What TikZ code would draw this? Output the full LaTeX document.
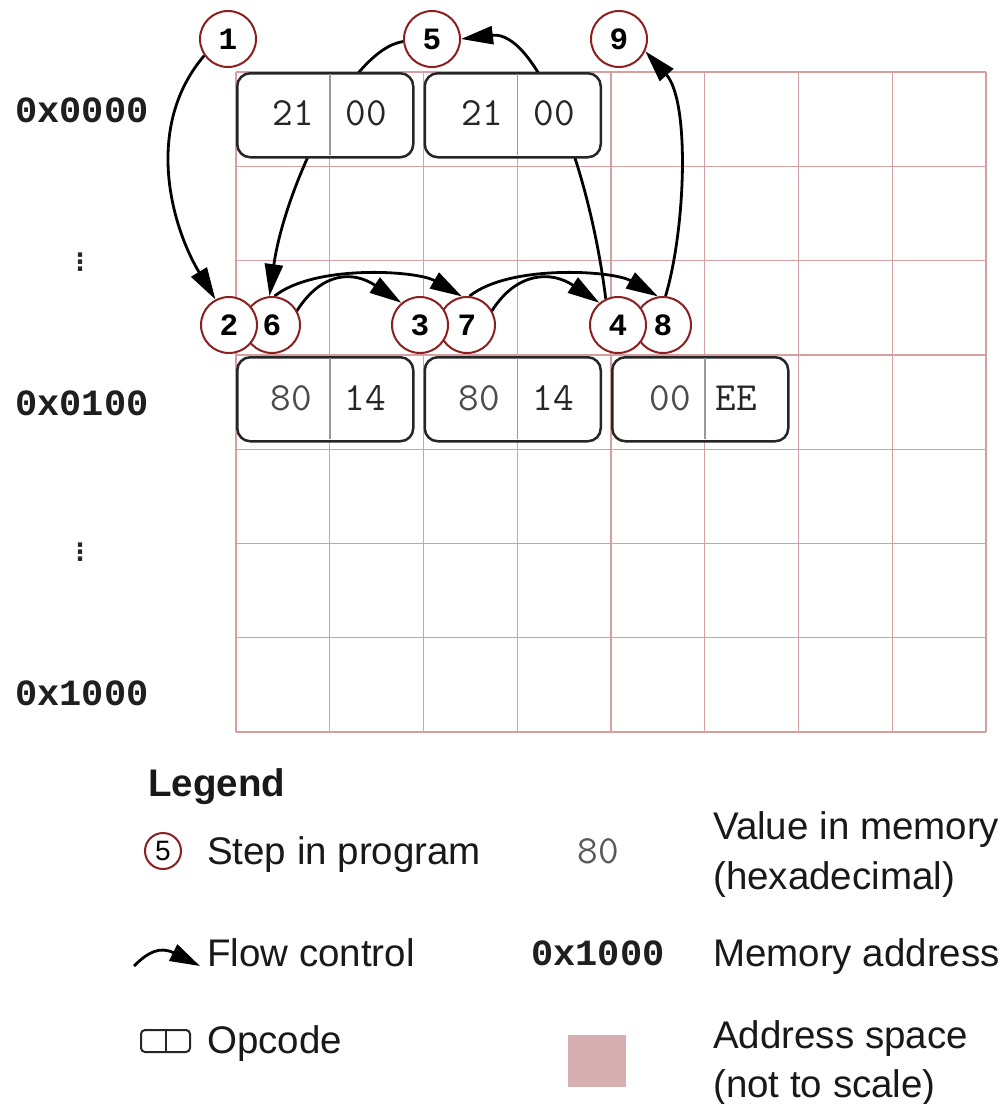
\documentclass[tikz,border=0pt]{standalone}
\usepackage{fontspec}
\setmainfont{Liberation Sans}
\newfontfamily\boldmono{Liberation Mono}
\newfontfamily\dotsfont{DejaVu Sans}
\usetikzlibrary{arrows.meta}
\definecolor{gridred}{RGB}{214,160,162}
\definecolor{stepred}{RGB}{140,32,32}
\definecolor{spacepink}{RGB}{216,175,177}
\newcommand\myvalfont{\fontsize{40}{42}\selectfont\ttfamily}
\newcommand\mystepfont{\fontsize{31}{34}\selectfont\boldmono\bfseries}
\newcommand\myaddrfont{\fontsize{37}{40}\selectfont\boldmono\bfseries}
\newcommand\mylegfont{\fontsize{38.5}{42}\selectfont}
\pgfdeclarelayer{gridlayer}
\pgfdeclarelayer{arrowlayer}
\pgfsetlayers{gridlayer,arrowlayer,main}
\begin{document}
\begin{tikzpicture}[x=1pt,y=-1pt,
  gridline/.style={draw=gridred, line width=1.3pt},
  flow/.style={draw=black, line width=2.8pt, -{Triangle[length=32pt,width=18pt]}},
  stepnode/.style={circle, draw=stepred, line width=2pt, fill=white, minimum size=56pt, inner sep=0pt, font=\mystepfont},
  opbox/.style={rectangle, draw=black!85, line width=2.5pt, rounded corners=13pt, fill=white, minimum width=176pt, minimum height=84pt, anchor=north west, inner sep=0pt},
  divider/.style={draw=black!40, line width=1.5pt},
  valtext/.style={font=\myvalfont, text=black!70, inner sep=0pt},
  valtextdark/.style={font=\myvalfont, text=black!85, inner sep=0pt},
  addrtext/.style={font=\myaddrfont, text=black!88, inner sep=0pt},
  vdots/.style={font=\dotsfont\bfseries\fontsize{24}{24}\selectfont, text=black!85, inner sep=0pt},
  legtext/.style={font=\mylegfont, text=black!90, anchor=base west, inner sep=0pt},
]
\useasboundingbox (0,0) rectangle (1005,1104);
\begin{pgfonlayer}{gridlayer}
  \fill[white] (0,0) rectangle (1005,1104);
  \foreach \i in {0,...,8} \draw[gridline] ({236+\i*93.75},72) -- ({236+\i*93.75},732);
  \foreach \j in {0,...,7} \draw[gridline] (236,{72+\j*94.2857}) -- (986,{72+\j*94.2857});
\end{pgfonlayer}

% address labels
\node[addrtext] (a0) at (82,110) {0x0000};
\node[vdots] (d1) at (80,262) {⋮};
\node[addrtext] (a1) at (82,403) {0x0100};
\node[vdots] (d2) at (80,552) {⋮};
\node[addrtext] (a2) at (82,693) {0x1000};

% opcode boxes
\node[opbox] (b1) at (236,72) {};
\node[opbox] (b2) at (423.5,72) {};
\node[opbox] (b3) at (236,356) {};
\node[opbox] (b4) at (423.5,356) {};
\node[opbox] (b5) at (611,356) {};
\draw[divider] (329.75,73.5) -- (329.75,154.5);
\draw[divider] (517.25,73.5) -- (517.25,154.5);
\draw[divider] (329.75,357.5) -- (329.75,438.5);
\draw[divider] (517.25,357.5) -- (517.25,438.5);
\draw[divider] (704.75,357.5) -- (704.75,438.5);
\node[valtextdark] (v11) at (293,113) {21};
\node[valtextdark] (v12) at (366,113) {00};
\node[valtextdark] (v21) at (482,113) {21};
\node[valtextdark] (v22) at (554,113) {00};
\node[valtext] (v31) at (291,398) {80};
\node[valtextdark] (v32) at (365,398) {14};
\node[valtext] (v41) at (479,398) {80};
\node[valtextdark] (v42) at (553,398) {14};
\node[valtext] (v51) at (670,398) {00};
\node[valtextdark] (v52) at (736,398) {EE};

% step circles
\node[stepnode] (n1) at (228,39) {1};
\node[stepnode] (n5) at (432,39) {5};
\node[stepnode] (n9) at (619,39) {9};
\node[stepnode] (n6) at (272,325) {6};
\node[stepnode] (n2) at (229,325) {2};
\node[stepnode] (n7) at (467,325) {7};
\node[stepnode] (n3) at (420,325) {3};
\node[stepnode] (n8) at (663,325) {8};
\node[stepnode] (n4) at (618,325) {4};

% flow control arrows
\begin{pgfonlayer}{arrowlayer}
  \draw[flow] (n1.215) .. controls +(-60,70) and +(-45,-75) .. (n2.118);
  \draw[flow] (n2.east) -- (n6.30) .. controls +(25,-39) and +(-48,-32) .. (n3.130);
  \draw[flow] (n3.east) -- (n7.30) .. controls +(25,-39) and +(-48,-32) .. (n4.130);
  \draw[flow] (n4.115) .. controls +(-17,-135) and +(75,-9) .. (n5.east);
  \draw[flow] (n5.185) .. controls +(-54,8) and +(15,-107) .. (n6.95);
  \draw[flow] (n6.85) .. controls +(40,-32) and +(-45,-26) .. (n7.100);
  \draw[flow] (n7.85) .. controls +(40,-32) and +(-45,-26) .. (n8.100);
  \draw[flow] (n8.85) .. controls +(20,-67) and +(45,50) .. (n9.335);
\end{pgfonlayer}

% legend
\node[legtext, font=\mylegfont\bfseries] (lg) at (148,796) {Legend};
\node[circle, draw=stepred, line width=2pt, minimum size=36pt, inner sep=0pt, font=\fontsize{28}{30}\selectfont] (l5) at (163,851) {5};
\node[legtext] (lstep) at (207,864) {Step in program};
\node[valtext, text=black!65, font=\fontsize{40}{42}\selectfont\ttfamily] (l80) at (598,851) {80};
\node[legtext] (lval1) at (713,839) {Value in memory};
\node[legtext] (lval2) at (713,889) {(hexadecimal)};
\coordinate (fa) at (134,966);
\coordinate (fb) at (200,966);
\draw[line width=2.8pt, -{Triangle[length=30pt,width=18pt]}] (fa) .. controls (148,952) and (160,946) .. (fb);
\node[legtext] (lflow) at (207,966) {Flow control};
\node[addrtext, font=\fontsize{37}{40}\selectfont\boldmono\bfseries] (laddr) at (598,953) {0x1000};
\node[legtext] (lmem) at (713,966) {Memory address};
\node[draw=black!85, line width=2pt, rounded corners=4pt, minimum width=49pt, minimum height=22pt, inner sep=0pt] (lop) at (165.5,1041) {};
\draw[line width=2pt, black!85] (lop.north) -- (lop.south);
\node[legtext] (lopc) at (207,1053) {Opcode};
\node[fill=spacepink, minimum width=58pt, minimum height=52pt, inner sep=0pt] (lsq) at (597,1061) {};
\node[legtext] (las1) at (713,1048) {Address space};
\node[legtext] (las2) at (713,1097) {(not to scale)};
\end{tikzpicture}
\end{document}
